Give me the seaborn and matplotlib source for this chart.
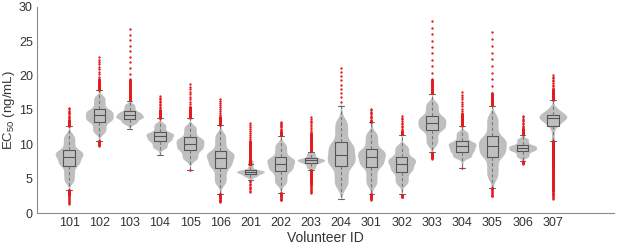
import matplotlib
matplotlib.use("Agg")
import matplotlib.pyplot as plt
import numpy as np
import pandas as pd
import seaborn as sns

# volunteer ids and quantile knots (ng/mL)
volunteers = ["101", "102", "103", "104", "105", "106", "201", "202", "203",
              "204", "301", "302", "303", "304", "305", "306", "307"]
levels = [0, 0.003, 0.02, 0.25, 0.5, 0.75, 0.98, 0.997, 1]

v_min = [1.34, 9.8, 12.2, 8.48, 6.2, 1.6, 3.06, 1.84, 2.9,
         2.04, 1.94, 2.27, 7.86, 6.55, 2.42, 7.18, 2.08]
v_p003 = [2.6, 10.4, 12.4, 8.7, 7.0, 2.4, 4.85, 2.7, 4.2,
          2.6, 2.6, 2.7, 8.6, 7.1, 3.6, 7.5, 3.2]
v_p02 = [4.3, 11.5, 12.9, 9.3, 7.6, 4.0, 5.2, 4.0, 6.4,
         3.6, 3.8, 4.0, 9.7, 7.9, 4.8, 8.0, 6.0]
q1 = [6.87, 13.28, 13.72, 10.42, 9.11, 6.55, 5.72, 6.06, 7.28,
      6.78, 6.7, 5.97, 12.02, 8.88, 8.15, 8.97, 12.7]
median = [8.2, 14.2, 14.2, 11.15, 10.08, 7.94, 6.02, 7.18, 7.66,
          8.49, 8.1, 7.18, 13.1, 9.7, 9.7, 9.46, 13.83]
q3 = [9.2, 15.13, 14.79, 11.78, 11.0, 9.06, 6.3, 8.15, 7.95,
      10.33, 9.32, 8.15, 14.16, 10.42, 11.15, 9.94, 14.2]
v_p98 = [11.6, 17.2, 16.0, 13.2, 12.9, 11.8, 7.8, 10.3, 8.9,
         13.8, 11.9, 10.0, 16.3, 12.0, 14.5, 11.0, 15.3]
v_p997 = [13.6, 19.5, 19.5, 15.0, 15.5, 14.0, 10.5, 11.8, 11.6,
          15.6, 13.4, 12.0, 19.5, 14.5, 17.5, 12.3, 18.0]
v_max = [15.3, 22.7, 26.8, 16.97, 18.77, 16.6, 13.1, 13.3, 13.97,
         21.15, 15.16, 14.1, 27.9, 17.55, 26.3, 14.16, 20.1]

n_draws = 3000

rows = []
for i, vid in enumerate(volunteers):
    knots = [v_min[i], v_p003[i], v_p02[i], q1[i], median[i], q3[i],
             v_p98[i], v_p997[i], v_max[i]]
    draws = np.interp(np.linspace(0, 1, n_draws), levels, knots)
    rows.append(pd.DataFrame({"volunteer": vid, "ec50": draws}))
df = pd.concat(rows, ignore_index=True)

sns.set_style("white")
plt.rcParams["font.family"] = ["Liberation Sans", "DejaVu Sans"]
plt.rcParams["mathtext.default"] = "regular"

fig = plt.figure(figsize=(6.17, 2.48), dpi=100)
ax = fig.add_axes([0.06, 0.141, 0.935, 0.831])

sns.violinplot(
    data=df, x="volunteer", y="ec50", order=volunteers, ax=ax,
    color="#bfbfbf", saturation=1, linewidth=0, inner=None, cut=0,
    density_norm="width", width=0.92, bw_adjust=0.9,
)
sns.boxplot(
    data=df, x="volunteer", y="ec50", order=volunteers, ax=ax,
    fill=False, color="#555555", width=0.38, linewidth=0.8,
    whiskerprops={"linestyle": (0, (3, 2)), "color": "#777777"},
    capprops={"color": "#666666"},
    flierprops={"marker": "o", "markerfacecolor": "#e41a1c",
                "markeredgecolor": "#e41a1c", "markersize": 1.7,
                "markeredgewidth": 0},
)

ax.set_ylim(0, 30)
ax.set_xlim(-1.06, 18.02)
ax.set_yticks(range(0, 31, 5))
ax.set_xlabel("Volunteer ID", fontsize=10, color="#333333", labelpad=1)
ax.set_ylabel("EC$_{50}$ (ng/mL)", fontsize=9.5, color="#333333",
              labelpad=1)
ax.tick_params(direction="in", length=3, width=0.7, colors="#8c8c8c",
               labelcolor="#333333", labelsize=9, pad=3)
sns.despine(ax=ax)
for side in ["left", "bottom"]:
    ax.spines[side].set_color("#8c8c8c")
    ax.spines[side].set_linewidth(0.8)

fig.savefig("out.png", dpi=100)
